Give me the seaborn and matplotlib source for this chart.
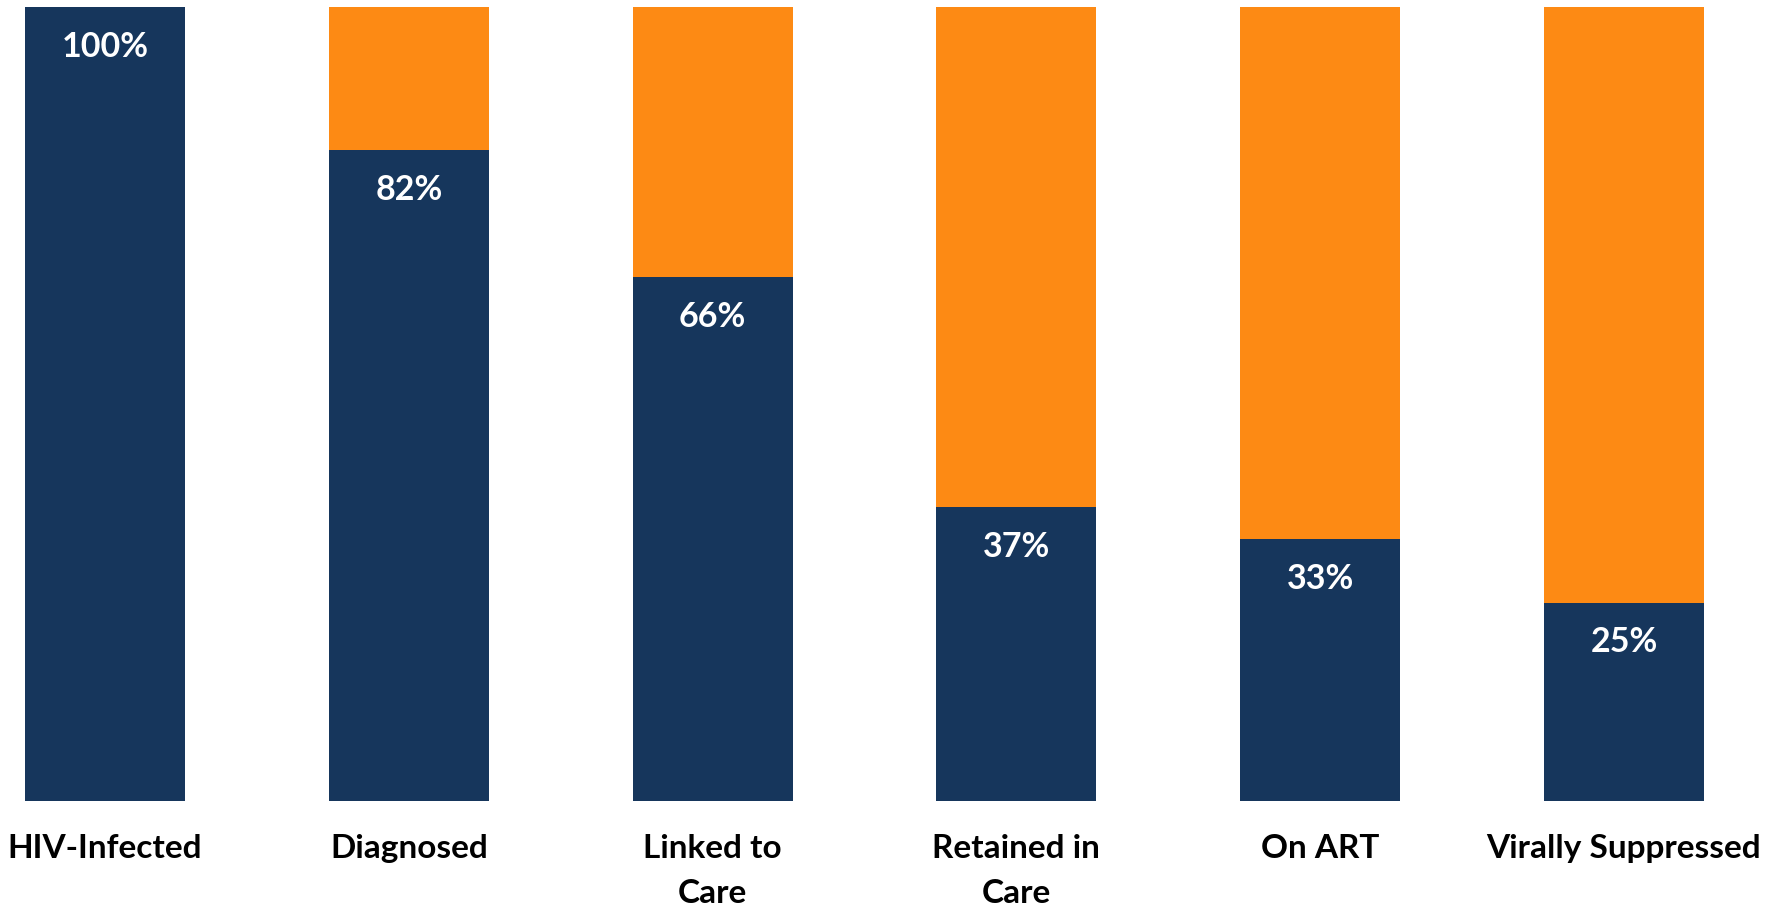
import matplotlib
matplotlib.use("Agg")
import matplotlib.pyplot as plt
import seaborn as sns
import pandas as pd

stages = ["HIV-Infected", "Diagnosed", "Linked to\nCare", "Retained in\nCare", "On ART", "Virally Suppressed"]
percent = [100, 82, 66, 37, 33, 25]
total = [100, 100, 100, 100, 100, 100]

navy = "#16365C"
orange = "#FD8A14"

sns.set_theme(style="white")
plt.rcParams["font.family"] = ["Lato", "DejaVu Sans"]

df = pd.DataFrame({"stage": stages, "percent": percent, "total": total})

fig = plt.figure(figsize=(17.77, 9.16), dpi=100)
ax = fig.add_axes([0, 0.1255, 1, 0.8668])

# orange background bar = the gap to 100%, navy on top = share reached
sns.barplot(data=df, x="stage", y="total", color=orange, saturation=1, width=0.527,
            linewidth=0, ax=ax)
sns.barplot(data=df, x="stage", y="percent", color=navy, saturation=1, width=0.527,
            linewidth=0, ax=ax)

for i, v in enumerate(percent):
    ax.annotate(f"{v}%", xy=(i, v), xytext=(0, -17), textcoords="offset points",
                ha="center", va="top", color="white", fontsize=24.5, fontweight="bold")

ax.set_xlim(-0.3456, 5.504)
ax.set_ylim(0, 100)
ax.set_xlabel("")
ax.set_ylabel("")
ax.set_yticks([])
ax.set_xticks(range(len(stages)), labels=stages, fontweight="bold", color="black",
              fontsize=24, linespacing=1.65)
ax.tick_params(axis="x", length=0, pad=24)
sns.despine(ax=ax, left=True, bottom=True)

fig.savefig("out.png", dpi=100)
